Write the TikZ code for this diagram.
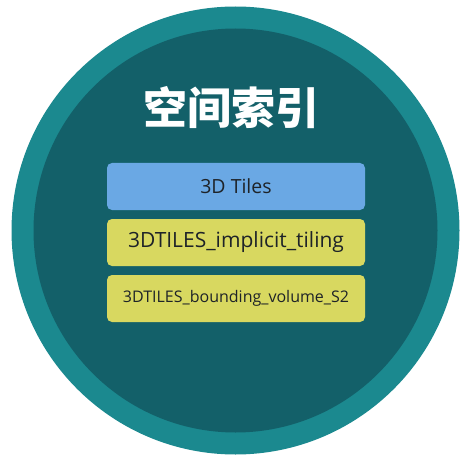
\documentclass[tikz,border=0pt]{standalone}
\usepackage{fontspec}
\setmainfont{Open Sans}
\newfontfamily\cjk{Noto Sans CJK SC}
\usetikzlibrary{positioning}
\definecolor{ringteal}{RGB}{27,137,143}
\definecolor{coreteal}{RGB}{19,96,105}
\definecolor{tileblue}{RGB}{106,168,228}
\definecolor{extyellow}{RGB}{216,216,96}
\definecolor{boxtext}{RGB}{30,35,40}

\begin{document}
\begin{tikzpicture}[x=1pt,y=-1pt,node distance=56pt,on grid,
	layer/.style={rectangle,rounded corners=5pt,minimum width=258pt,minimum height=47pt,
		text=boxtext,font=\fontsize{19.5}{22}\selectfont}]
	\useasboundingbox (0,0) rectangle (468,465);
	\fill[ringteal] (235.5,230.5) circle[radius=224];
	\fill[coreteal] (235.5,230.5) circle[radius=202];
	\node[text=white,font=\cjk\bfseries\fontsize{44}{48}\selectfont] (title) at (231,108) {空间索引};
	\node[layer,fill=tileblue] (tiles) at (236,186.5) {3D Tiles};
	\node[layer,fill=extyellow,font=\fontsize{21}{24}\selectfont] (implicit) [below=of tiles] {3DTILES\_implicit\_tiling};
	\node[layer,fill=extyellow,font=\fontsize{16}{20}\selectfont] (s2) [below=of implicit] {3DTILES\_bounding\_volume\_S2};
\end{tikzpicture}
\end{document}
